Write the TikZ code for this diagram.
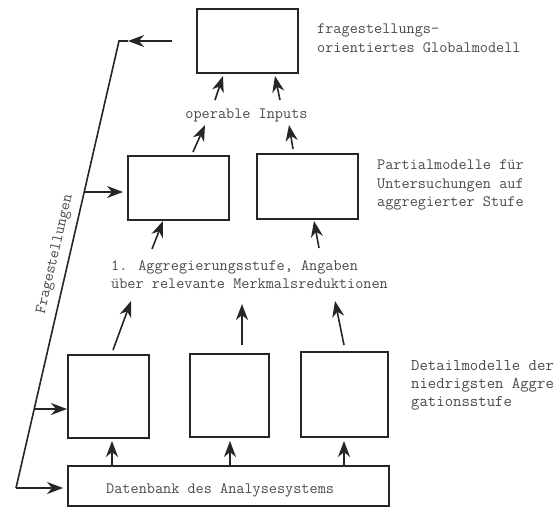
\documentclass[tikz,border=0pt]{standalone}
\usepackage{fontspec}
\usetikzlibrary{arrows.meta}
\definecolor{ink}{HTML}{262626}
\definecolor{txt}{HTML}{4A4A4A}
\begin{document}
\begin{tikzpicture}[x=1pt,y=-1pt,
  box/.style={draw=ink,line width=1.6pt,minimum width=#1,inner sep=0pt},
  lbl/.style={text=txt,font=\ttfamily\fontsize{15.8}{18.4}\selectfont,inner sep=0pt,align=left},
  arr/.style={draw=ink,line width=1.6pt,-{Stealth[length=16pt,width=12pt,inset=5pt]}},
  ln/.style={draw=ink,line width=1.6pt}]
\useasboundingbox[fill=white] (0,0) rectangle (556,506);
% boxes
\node[box=101pt,minimum height=64pt] (top) at (247.5,41) {};
\node[box=101pt,minimum height=64pt] (pL) at (178.5,188) {};
\node[box=101pt,minimum height=65pt] (pR) at (307.5,186.5) {};
\node[box=81pt,minimum height=83pt] (dL) at (108.5,396.5) {};
\node[box=79pt,minimum height=83pt] (dM) at (229.5,395.5) {};
\node[box=87pt,minimum height=85pt] (dR) at (344.5,394.5) {};
\node[box=321pt,minimum height=40pt] (db) at (228.5,486) {};
% labels
\node[lbl,anchor=west] (dbt) at (106,490) {Datenbank des Analysesystems};
\node[lbl,anchor=north west] (tglob) at (317,24) {fragestellungs-\\orientiertes Globalmodell};
\node[lbl] (tops) at (246.5,115) {operable Inputs};
\node[lbl,anchor=north west] (tpart) at (377,160) {Partialmodelle für\\Untersuchungen auf\\aggregierter Stufe};
\node[lbl,anchor=north west] (tagg) at (111,260) {1. Aggregierungsstufe, Angaben\\über relevante Merkmalsreduktionen};
\node[lbl,anchor=north west,font=\ttfamily\fontsize{16.3}{18.4}\selectfont] (tdet) at (411,360) {Detailmodelle der\\niedrigsten Aggre\\gationsstufe};
% Fragestellungen feedback line
\coordinate (ctop) at (119,41);
\coordinate (cbot) at (16,488);
\coordinate (tstart) at (172,41);
\coordinate (ttip) at (128,41);
\draw[arr] (tstart) -- (ttip);
\draw[ln] (ttip) -- (ctop) -- (cbot);
\coordinate (f1) at (84,192);
\coordinate (f1e) at (123,192);
\coordinate (f2) at (34,409);
\coordinate (f2e) at (67,409);
\coordinate (f3e) at (63,488);
\draw[arr] (f1) -- (f1e);
\draw[arr] (f2) -- (f2e);
\draw[arr] (cbot) -- (f3e);
\node[lbl,rotate=77,anchor=south] (tfrag) at (62,256) {Fragestellungen};
% db -> detail
\coordinate (a1) at (112,465); \coordinate (a1e) at (112,441);
\coordinate (a2) at (230,465); \coordinate (a2e) at (230,441);
\coordinate (a3) at (344,465); \coordinate (a3e) at (344,441);
\draw[arr] (a1) -- (a1e);
\draw[arr] (a2) -- (a2e);
\draw[arr] (a3) -- (a3e);
% detail -> aggregation
\coordinate (b1) at (113,350); \coordinate (b1e) at (131,301);
\coordinate (b2) at (242,345); \coordinate (b2e) at (242,304);
\coordinate (b3) at (344,345); \coordinate (b3e) at (335,301);
\draw[arr] (b1) -- (b1e);
\draw[arr] (b2) -- (b2e);
\draw[arr] (b3) -- (b3e);
% aggregation -> partial
\coordinate (c1) at (152,249); \coordinate (c1e) at (163,221);
\coordinate (c2) at (319,248); \coordinate (c2e) at (314,221);
\draw[arr] (c1) -- (c1e);
\draw[arr] (c2) -- (c2e);
% partial -> operable
\coordinate (d1) at (193,152); \coordinate (d1e) at (205,125);
\coordinate (d2) at (293,149); \coordinate (d2e) at (289,125);
\draw[arr] (d1) -- (d1e);
\draw[arr] (d2) -- (d2e);
% operable -> top
\coordinate (e1) at (215,100); \coordinate (e1e) at (223,76);
\coordinate (e2) at (280,100); \coordinate (e2e) at (275,76);
\draw[arr] (e1) -- (e1e);
\draw[arr] (e2) -- (e2e);
\end{tikzpicture}
\end{document}
